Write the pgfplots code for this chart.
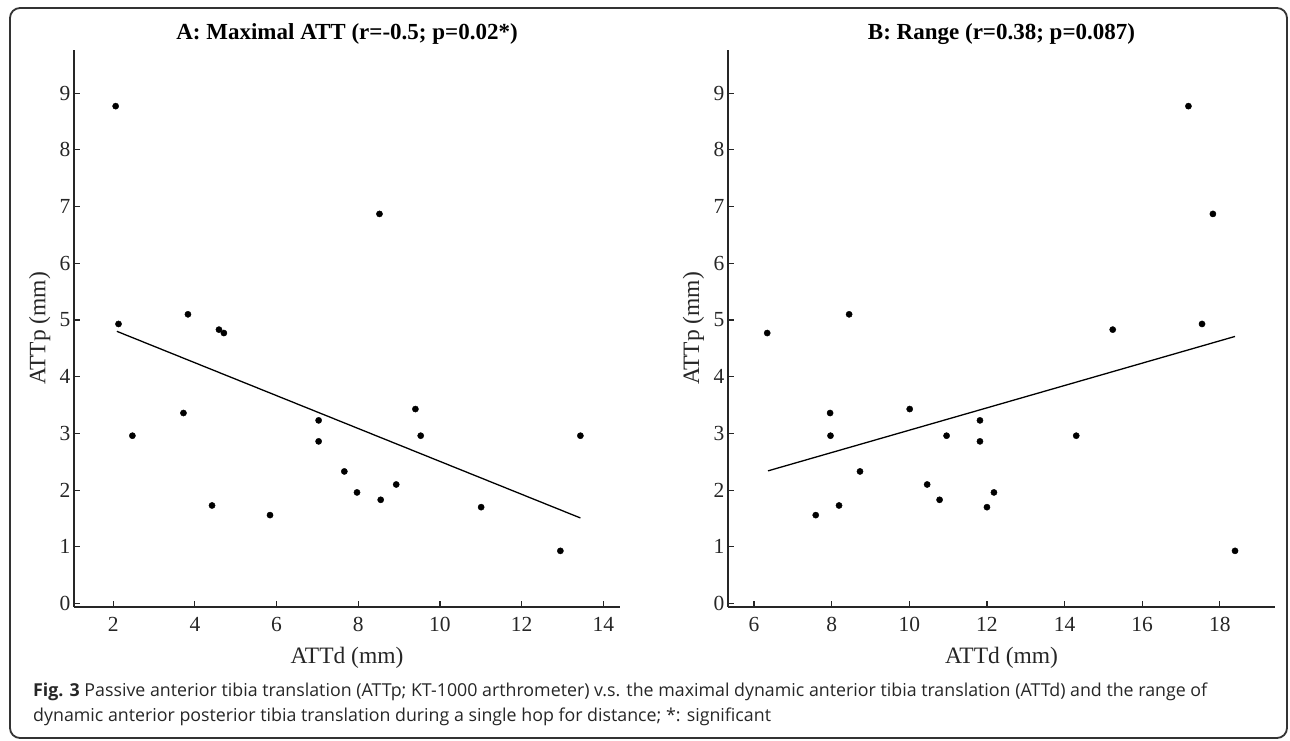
\documentclass[border=0pt]{standalone}
\usepackage{fontspec}
\setmainfont{Liberation Serif}
\newfontfamily\capfont{Open Sans}
\usepackage{pgfplots}
\pgfplotsset{compat=1.18}
\definecolor{axgray}{HTML}{262626}

\pgfplotsset{
  attplot/.style={
    scale only axis, anchor=south west,
    height=557pt,
    ymin=-0.06, ymax=9.76, ytick={0,1,...,9},
    axis x line*=bottom, axis y line*=left,
    tick align=inside, major tick length=6pt,
    axis line style={line width=1.2pt, color=axgray},
    major tick style={line width=1.2pt, color=axgray},
    ticklabel style={font=\fontsize{21.5}{24}\selectfont, text=axgray},
    /pgf/number format/assume math mode=true,
    xticklabel style={yshift=-7pt},
    every axis title/.style={at={(axis description cs:0.5,1)}, anchor=base, yshift=10pt,
      font=\fontsize{23}{26}\selectfont\bfseries},
    every axis x label/.style={at={(axis description cs:0.5,0)}, anchor=base, yshift=-56pt,
      font=\fontsize{23.5}{26}\selectfont, text=axgray},
    every axis y label/.style={at={(axis description cs:-0.063,0.5)}, rotate=90, anchor=center,
      font=\fontsize{23.5}{26}\selectfont, text=axgray},
    xlabel={ATTd (mm)}, ylabel={ATTp (mm)},
  },
  dots/.style={only marks, mark=*, mark size=3.1pt, black},
  fit/.style={black, line width=1.3pt, no marks},
}

\begin{document}
\begin{tikzpicture}
\useasboundingbox (0,0) rectangle (1290pt,740pt);
\draw[line width=1.8pt, black!80, rounded corners=10pt] (10pt,2pt) rectangle (1287pt,732pt);

% A: maximal ATT
\begin{axis}[attplot, at={(74pt,133pt)}, width=546pt,
  xmin=1.04, xmax=14.41, xtick={2,4,...,14},
  title={A: Maximal ATT (r=-0.5; p=0.02*)}]
\addplot[dots] table {
x y
2.06 8.77
8.52 6.87
2.13 4.93
3.83 5.10
4.59 4.83
4.71 4.77
2.47 2.96
3.72 3.36
4.42 1.73
5.84 1.56
7.03 3.23
7.03 2.86
7.66 2.33
7.97 1.96
8.55 1.83
8.93 2.10
9.40 3.43
9.53 2.96
11.01 1.70
12.95 0.93
13.44 2.96
};
\addplot[fit] coordinates {(2.09,4.80) (13.44,1.51)};
\end{axis}

% B: range
\begin{axis}[attplot, at={(728pt,133pt)}, width=547pt,
  xmin=5.33, xmax=19.42, xtick={6,8,...,18},
  title={B: Range (r=0.38; p=0.087)}]
\addplot[dots] table {
x y
17.19 8.77
17.82 6.87
6.34 4.77
8.45 5.10
15.24 4.83
17.54 4.93
7.96 3.36
7.97 2.96
7.59 1.56
8.19 1.73
8.73 2.33
10.01 3.43
10.46 2.10
10.78 1.83
10.96 2.96
11.82 3.23
11.82 2.86
12.00 1.70
12.18 1.96
14.30 2.96
18.39 0.93
};
\addplot[fit] coordinates {(6.36,2.34) (18.39,4.71)};
\end{axis}

\node[anchor=base west, inner sep=0pt, font=\capfont\fontsize{17.8}{20}\selectfont, text=black!85]
  at (33pt,44pt) {\textbf{Fig. 3} Passive anterior tibia translation (ATTp; KT-1000 arthrometer) v.s. the maximal dynamic anterior tibia translation (ATTd) and the range of};
\node[anchor=base west, inner sep=0pt, font=\capfont\fontsize{17.8}{20}\selectfont, text=black!85]
  at (33pt,19pt) {dynamic anterior posterior tibia translation during a single hop for distance; *: significant};
\end{tikzpicture}
\end{document}
